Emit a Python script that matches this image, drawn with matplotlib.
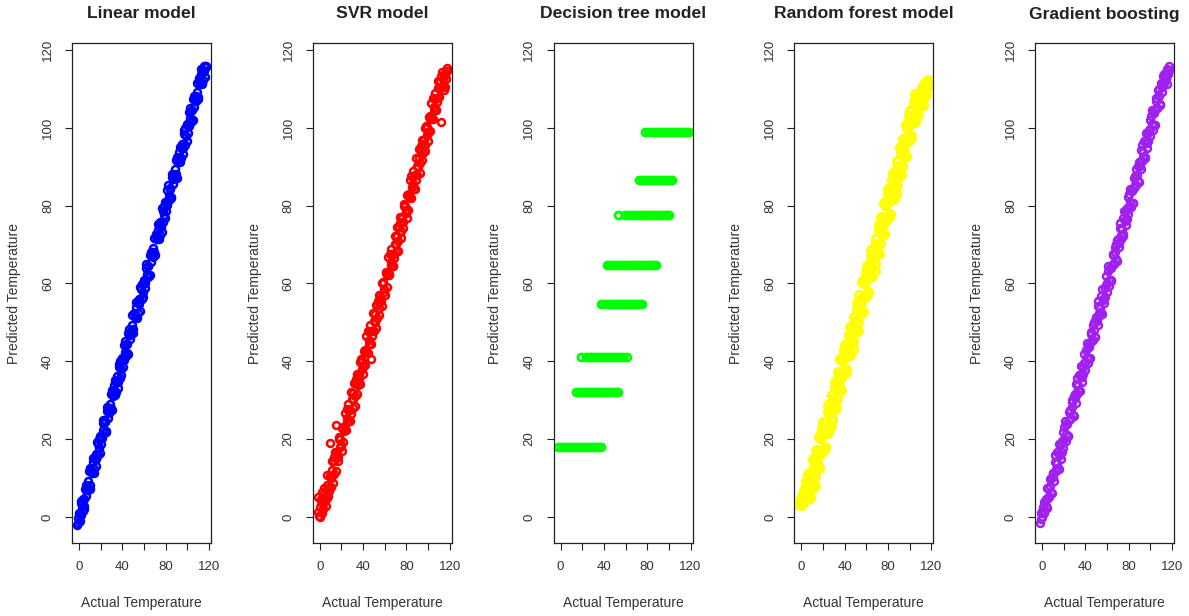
import matplotlib.pyplot as plt

plt.rcParams['font.family'] = ['Liberation Sans', 'DejaVu Sans']

# actual temperatures of the test set (two interleaved batches, shared by the scatter panels)
actual = [
    -2.0, -0.7, 0.2, 1.4, 2.1, 3.2, 4.3, 4.9, 6.2, 7.0,
    8.1, 9.3, 10.0, 11.1, 12.3, 13.0, 14.1, 15.3, 16.0, 17.2,
    18.1, 19.0, 20.2, 21.3, 22.0, 23.1, 24.3, 25.0, 26.1, 27.3,
    28.0, 29.1, 30.3, 31.0, 32.2, 33.1, 34.0, 35.3, 36.1, 37.0,
    38.2, 39.1, 40.0, 41.3, 42.1, 43.0, 44.2, 45.1, 46.3, 47.0,
    48.1, 49.3, 50.0, 51.2, 52.1, 53.0, 54.3, 55.1, 56.0, 57.2,
    58.1, 59.0, 60.3, 61.1, 62.0, 63.2, 64.1, 65.3, 66.0, 67.2,
    68.1, 69.0, 70.2, 71.3, 72.0, 73.1, 74.3, 75.0, 76.2, 77.1,
    78.0, 79.3, 80.1, 81.0, 82.2, 83.1, 84.0, 85.3, 86.1, 87.0,
    88.2, 89.1, 90.0, 91.3, 92.1, 93.0, 94.2, 95.1, 96.3, 97.0,
    98.1, 99.2, 100.0, 101.3, 102.1, 103.0, 104.2, 105.1, 106.0, 107.3,
    108.1, 109.0, 110.2, 111.1, 112.3, 113.0, 114.1, 115.2, 116.0, 117.1,
]
actual2 = [
    -1.4, -0.2, 0.8, 1.8, 2.7, 3.7, 4.6, 5.5, 6.6, 7.5,
    8.6, 9.7, 10.5, 11.6, 12.7, 13.5, 14.6, 15.7, 16.5, 17.7,
    18.6, 19.5, 20.7, 21.8, 22.5, 23.6, 24.7, 25.5, 26.6, 27.7,
    28.5, 29.6, 30.7, 31.5, 32.6, 33.6, 34.5, 35.7, 36.6, 37.5,
    38.7, 39.6, 40.5, 41.7, 42.6, 43.5, 44.7, 45.6, 46.7, 47.5,
    48.6, 49.7, 50.5, 51.7, 52.6, 53.5, 54.7, 55.6, 56.5, 57.7,
    58.6, 59.5, 60.7, 61.6, 62.5, 63.7, 64.6, 65.7, 66.5, 67.7,
    68.6, 69.5, 70.7, 71.7, 72.5, 73.6, 74.7, 75.5, 76.7, 77.6,
    78.5, 79.7, 80.6, 81.5, 82.7, 83.6, 84.5, 85.7, 86.6, 87.5,
    88.7, 89.6, 90.5, 91.7, 92.6, 93.5, 94.7, 95.6, 96.7, 97.5,
    98.6, 99.7, 100.5, 101.7, 102.6, 103.5, 104.7, 105.6, 106.5, 107.7,
    108.6, 109.5, 110.7, 111.6, 112.6, 113.5, 114.6, 115.6, 116.5, 117.4,
]

linear_pred = [
    -2.0, -0.2, 0.8, 0.5, 3.6, 1.6, 4.6, 2.9, 8.3, 6.8,
    6.9, 11.9, 7.2, 12.1, 11.8, 15.2, 12.2, 16.1, 13.0, 18.7,
    19.9, 16.5, 20.8, 20.4, 25.0, 21.5, 24.6, 21.8, 28.2, 27.1,
    26.8, 31.7, 27.5, 32.0, 31.7, 35.3, 32.1, 36.1, 33.1, 38.5,
    40.0, 36.6, 40.6, 40.4, 45.1, 41.4, 44.5, 41.9, 48.4, 46.8,
    46.9, 51.9, 47.2, 52.2, 51.6, 55.2, 52.4, 55.9, 53.0, 58.7,
    59.9, 56.5, 60.9, 60.2, 65.0, 61.6, 64.4, 62.1, 68.1, 67.0,
    66.9, 71.6, 67.4, 72.3, 71.5, 75.3, 72.4, 75.8, 73.2, 78.6,
    79.8, 76.8, 80.7, 80.1, 85.2, 81.5, 84.3, 82.1, 88.2, 86.8,
    87.0, 91.7, 87.2, 92.3, 91.6, 95.2, 92.3, 95.9, 93.3, 98.5,
    99.9, 96.7, 100.6, 100.4, 105.1, 101.4, 104.5, 101.9, 108.1, 107.1,
    106.9, 111.6, 107.4, 112.1, 111.8, 115.2, 112.2, 116.0, 113.0, 116.0,
]
linear_pred2 = [
    -1.6, 1.0, -1.1, 4.2, 2.6, 4.6, 2.0, 7.2, 5.5, 7.9,
    9.2, 8.2, 12.5, 11.2, 14.0, 11.2, 14.8, 14.8, 19.2, 15.9,
    17.8, 20.7, 18.8, 24.2, 22.4, 24.5, 22.1, 27.2, 25.5, 28.1,
    29.1, 28.1, 32.7, 31.1, 33.9, 31.3, 34.7, 34.8, 39.3, 35.7,
    37.9, 40.8, 38.6, 44.1, 42.5, 44.4, 42.1, 47.3, 45.6, 47.9,
    49.2, 48.2, 52.5, 51.3, 53.9, 51.2, 54.9, 54.7, 59.2, 55.9,
    57.8, 60.7, 58.8, 64.0, 62.4, 64.6, 62.0, 67.4, 65.4, 68.1,
    69.2, 68.0, 72.7, 71.3, 73.8, 71.3, 74.9, 74.6, 79.4, 75.8,
    77.7, 80.9, 78.7, 83.9, 82.6, 84.5, 81.9, 87.4, 85.5, 87.9,
    89.3, 88.1, 92.5, 91.3, 93.9, 91.2, 94.9, 94.7, 99.4, 95.7,
    97.8, 100.9, 98.6, 104.1, 102.5, 104.4, 102.1, 107.3, 105.4, 108.1,
    109.2, 108.0, 112.7, 111.2, 113.9, 111.2, 114.8, 114.7, 116.0, 115.6,
]

svr_pred = [
    5.2, 0.3, 0.0, 4.6, 6.3, 2.1, 7.5, 4.0, 4.8, 10.9,
    7.7, 18.9, 7.8, 12.0, 8.7, 14.4, 16.8, 23.6, 16.5, 14.3,
    20.5, 17.9, 16.9, 23.0, 22.2, 26.6, 22.3, 24.4, 29.0, 24.6,
    27.6, 32.2, 28.1, 31.9, 28.6, 34.5, 36.7, 33.8, 36.6, 34.1,
    40.6, 38.0, 36.7, 43.0, 42.3, 46.5, 42.2, 44.5, 49.2, 40.5,
    47.7, 52.4, 47.8, 52.1, 48.5, 54.4, 57.0, 53.6, 56.5, 54.3,
    60.5, 57.9, 57.0, 62.8, 62.2, 66.7, 62.1, 64.7, 68.9, 64.5,
    67.7, 72.1, 68.0, 72.2, 68.4, 74.5, 77.0, 73.5, 76.7, 74.2,
    80.4, 78.2, 76.8, 82.7, 82.4, 86.6, 82.0, 84.7, 89.0, 84.3,
    87.8, 92.2, 87.8, 92.2, 88.5, 94.4, 96.9, 93.6, 96.8, 94.1,
    100.5, 98.1, 96.7, 103.0, 102.3, 106.5, 102.2, 104.5, 108.9, 104.6,
    107.7, 112.1, 108.0, 112.0, 101.5, 114.4, 111.0, 113.7, 110.5, 115.3,
]
svr_pred2 = [
    1.2, 2.5, 4.0, 0.9, 3.2, 6.0, 5.1, 2.8, 8.2, 5.4,
    6.6, 10.4, 10.0, 14.4, 11.1, 15.4, 11.7, 16.0, 15.5, 20.1,
    20.1, 18.6, 22.9, 19.2, 22.9, 22.3, 27.7, 25.3, 27.6, 24.6,
    26.5, 30.3, 30.2, 34.3, 31.0, 35.5, 31.6, 36.0, 35.6, 39.9,
    40.2, 38.7, 42.7, 39.1, 43.0, 42.2, 47.7, 45.4, 47.7, 44.4,
    46.6, 50.4, 50.0, 54.5, 51.0, 55.4, 51.8, 55.9, 55.5, 60.1,
    60.1, 58.6, 62.9, 59.0, 62.9, 62.4, 67.6, 65.5, 67.5, 64.6,
    66.6, 70.2, 70.2, 74.5, 70.9, 75.5, 71.8, 75.8, 75.7, 80.0,
    80.0, 78.8, 82.8, 78.9, 83.1, 82.3, 87.5, 85.5, 87.6, 84.4,
    86.7, 90.3, 90.0, 94.5, 91.0, 95.4, 91.8, 95.9, 95.7, 99.9,
    100.1, 98.8, 102.7, 99.1, 103.0, 102.2, 107.7, 105.4, 107.5, 104.6,
    106.6, 110.2, 110.2, 113.4, 110.5, 112.6, 109.8, 114.1, 112.5, 114.6,
]

rf_pred = [
    3.4, 3.0, 4.6, 3.8, 6.2, 4.5, 7.9, 5.1, 8.8, 6.9,
    4.9, 10.4, 8.1, 14.9, 8.0, 15.2, 14.5, 12.7, 20.5, 16.2,
    21.2, 16.6, 24.4, 17.3, 22.9, 21.8, 26.9, 21.5, 27.7, 26.6,
    24.8, 30.2, 28.4, 34.8, 27.9, 35.3, 34.4, 32.7, 40.6, 36.0,
    41.3, 36.7, 44.2, 37.3, 43.0, 41.7, 46.8, 41.6, 47.9, 46.3,
    44.9, 50.4, 48.1, 55.0, 47.8, 55.2, 54.7, 52.5, 60.5, 56.2,
    61.2, 56.6, 64.5, 57.1, 62.9, 61.9, 66.7, 61.8, 67.6, 66.5,
    64.9, 70.1, 68.3, 75.1, 67.7, 75.3, 74.7, 72.4, 80.7, 76.1,
    81.1, 76.9, 84.3, 77.0, 83.1, 81.8, 86.6, 81.8, 87.7, 86.3,
    85.0, 90.2, 88.1, 95.1, 87.8, 95.2, 94.6, 92.5, 100.8, 96.0,
    101.2, 96.8, 104.2, 97.3, 103.0, 101.7, 106.8, 101.6, 107.6, 106.6,
    104.9, 108.5, 106.3, 110.2, 105.9, 109.8, 111.0, 108.4, 112.0, 111.6,
]
rf_pred2 = [
    4.1, 3.2, 5.3, 3.6, 7.0, 5.8, 9.2, 6.4, 11.0, 5.9,
    11.5, 9.4, 7.5, 13.4, 10.3, 17.1, 13.4, 16.4, 12.6, 20.2,
    16.5, 22.9, 21.2, 18.1, 24.7, 22.8, 28.7, 24.0, 27.9, 23.3,
    31.4, 29.3, 27.7, 33.3, 30.2, 37.2, 33.3, 36.4, 32.7, 40.0,
    36.6, 43.0, 41.0, 38.0, 44.8, 42.7, 48.7, 44.1, 48.0, 43.1,
    51.5, 49.4, 47.5, 53.5, 50.2, 57.1, 53.5, 56.3, 52.6, 60.2,
    56.5, 62.9, 61.2, 57.9, 64.7, 62.9, 68.6, 64.2, 67.8, 63.3,
    71.5, 69.2, 67.7, 73.5, 70.1, 77.2, 73.5, 76.2, 72.8, 80.1,
    76.4, 83.1, 81.1, 77.8, 84.9, 82.8, 88.5, 84.2, 87.9, 83.1,
    91.6, 89.3, 87.5, 93.5, 90.2, 97.1, 93.5, 96.3, 92.8, 100.0,
    96.5, 103.1, 101.0, 98.0, 104.8, 102.7, 108.7, 104.1, 107.8, 103.3,
    107.9, 105.6, 109.1, 107.2, 110.8, 108.0, 111.4, 110.3, 112.3, 110.9,
]

gb_pred = [
    -1.6, 1.0, -0.1, 3.8, 1.0, 4.6, 2.4, 7.5, 5.1, 9.8,
    10.1, 6.2, 11.2, 9.3, 15.8, 12.4, 16.6, 12.4, 16.1, 15.0,
    16.6, 21.8, 19.9, 24.6, 19.4, 23.8, 20.9, 26.9, 25.2, 29.6,
    30.0, 26.0, 31.5, 29.2, 35.7, 32.5, 36.5, 32.4, 36.2, 34.8,
    36.7, 41.9, 39.7, 44.6, 39.5, 43.7, 40.8, 47.0, 45.4, 49.3,
    50.1, 46.2, 51.2, 49.4, 55.6, 52.4, 56.8, 52.2, 56.1, 55.0,
    56.6, 61.8, 60.0, 64.4, 59.4, 63.9, 60.7, 67.2, 65.1, 69.5,
    70.1, 65.9, 71.4, 69.5, 75.5, 72.5, 76.8, 72.1, 76.3, 74.9,
    76.5, 82.1, 79.8, 84.3, 79.6, 83.8, 80.6, 87.2, 85.2, 89.3,
    90.2, 86.0, 91.2, 89.5, 95.6, 92.4, 96.7, 92.2, 96.4, 94.8,
    96.6, 102.0, 99.7, 104.6, 99.5, 103.7, 100.8, 107.0, 105.1, 109.6,
    110.1, 105.9, 111.4, 109.3, 113.8, 112.4, 112.6, 111.2, 114.0, 115.9,
]
gb_pred2 = [
    -0.5, 1.6, 2.5, 1.2, 4.1, 2.8, 4.7, 7.5, 5.3, 8.0,
    6.2, 11.3, 10.3, 14.2, 11.7, 13.8, 12.5, 18.8, 15.8, 18.8,
    19.5, 17.7, 23.2, 21.2, 23.9, 20.7, 24.8, 27.5, 25.3, 28.2,
    26.1, 31.2, 30.5, 34.1, 31.6, 33.9, 32.4, 38.8, 35.9, 38.6,
    39.6, 37.8, 43.0, 41.1, 44.0, 40.6, 44.8, 47.6, 45.4, 48.0,
    46.2, 51.3, 50.3, 54.3, 51.6, 53.8, 52.6, 58.7, 55.8, 58.8,
    59.5, 57.7, 63.2, 61.0, 63.9, 60.8, 64.7, 67.7, 65.2, 68.2,
    66.2, 71.1, 70.5, 74.3, 71.5, 73.9, 72.6, 78.6, 76.0, 78.7,
    79.4, 77.9, 83.1, 80.9, 84.1, 80.7, 84.6, 87.7, 85.3, 88.0,
    86.3, 91.2, 90.3, 94.3, 91.6, 93.8, 92.6, 98.7, 96.0, 98.6,
    99.5, 97.9, 103.0, 101.1, 104.0, 100.6, 104.8, 107.6, 105.2, 108.2,
    106.2, 111.1, 110.5, 113.2, 111.6, 113.0, 112.5, 115.0, 113.8, 114.9,
]

# decision tree: one predicted value per leaf, and the actual values that fell in it
tree_levels = [18.0, 32.2, 41.0, 54.7, 64.8, 77.7, 86.5, 98.9]
tree_actual = [
    [-2.1, 0.4, 2.8, 5.3, 7.9, 10.2, 12.6, 15.1, 17.7, 20.0, 22.4, 25.0, 27.3, 29.8, 32.2, 34.7, 37.1],
    [14.2, 16.8, 19.1, 21.6, 24.0, 26.5, 28.9, 31.3, 33.8, 36.2, 38.7, 41.1, 43.6, 46.0, 48.4, 51.0, 52.8],
    [19.3, 23.5, 25.9, 28.4, 30.8, 33.2, 35.7, 38.1, 40.6, 43.0, 45.5, 47.9, 50.3, 52.8, 55.2, 57.6, 60.9],
    [37.0, 39.4, 41.9, 44.3, 46.8, 49.2, 51.6, 54.1, 56.5, 59.0, 61.4, 63.8, 66.3, 68.7, 71.2, 73.5, 75.1],
    [42.6, 45.0, 47.5, 49.9, 52.4, 54.8, 57.2, 59.7, 62.1, 64.6, 67.0, 69.4, 71.9, 74.3, 76.8, 79.2, 81.6, 84.1, 86.2, 87.8],
    [52.9, 59.8, 62.3, 64.7, 67.1, 69.6, 72.0, 74.5, 76.9, 79.3, 81.8, 84.2, 86.7, 89.1, 91.5, 94.0, 96.4, 98.6, 100.2],
    [72.4, 74.8, 77.3, 79.7, 82.2, 84.6, 87.0, 89.5, 91.9, 94.4, 96.8, 99.2, 101.5, 103.2],
    [78.3, 80.8, 83.2, 85.6, 88.1, 90.5, 93.0, 95.4, 97.8, 100.3, 102.7, 105.2, 107.6, 110.0, 112.5, 114.9, 117.0, 118.8],
]

titles = ['Linear model', 'SVR model', 'Decision tree model', 'Random forest model', 'Gradient boosting']
colors = ['#0000FF', '#FF0000', '#00FF00', '#FFFF00', '#A020F0']
preds = [(linear_pred, linear_pred2), (svr_pred, svr_pred2), None,
         (rf_pred, rf_pred2), (gb_pred, gb_pred2)]
# marker size / edge width per panel
msizes = [(5.0, 1.8), (5.0, 1.8), (5.0, 2.0), (5.8, 2.2), (5.0, 1.8)]

W, H = 1189, 616
fig = plt.figure(figsize=(W / 100, H / 100), dpi=100)

for i in range(5):
    left = 72 + i * 240.75
    ax = fig.add_axes([left / W, 73 / H, 139 / W, 500 / H])
    col = colors[i]
    ms, mew = msizes[i]
    if preds[i] is None:
        for lvl, xs in zip(tree_levels, tree_actual):
            ax.plot(xs, [lvl] * len(xs), ls='none', marker='o', mfc='none',
                    mec=col, ms=ms, mew=mew)
    else:
        for xs, ys in zip((actual, actual2), preds[i]):
            ax.plot(xs, ys, ls='none', marker='o', mfc='none',
                    mec=col, ms=ms, mew=mew)

    ax.set_xlim(-6.5, 121.8)
    ax.set_ylim(-6.7, 121.8)
    ax.set_xticks(range(0, 121, 20))
    ax.set_xticklabels(['0', '', '40', '', '80', '', '120'])
    ax.set_yticks(range(0, 121, 20))
    ax.set_yticklabels([str(v) for v in range(0, 121, 20)], rotation=90, va='center')
    ax.tick_params(direction='out', length=5, width=0.8, labelsize=9.5,
                   colors='#222222', labelcolor='#333333', pad=8)
    for s in ax.spines.values():
        s.set_linewidth(0.9)
        s.set_color('#222222')

    ax.set_xlabel('Actual Temperature', fontsize=10, color='#333333')
    ax.xaxis.set_label_coords(0.5, -0.106)
    ax.set_ylabel('Predicted Temperature', fontsize=10, color='#333333')
    ax.yaxis.set_label_coords(-0.367, 0.5)

    fig.text((left + 69.5) / W, 1 - 14 / H, titles[i], ha='center', va='center',
             fontsize=12.6, fontweight='bold', color='#222222')

fig.savefig('out.png', dpi=100)
